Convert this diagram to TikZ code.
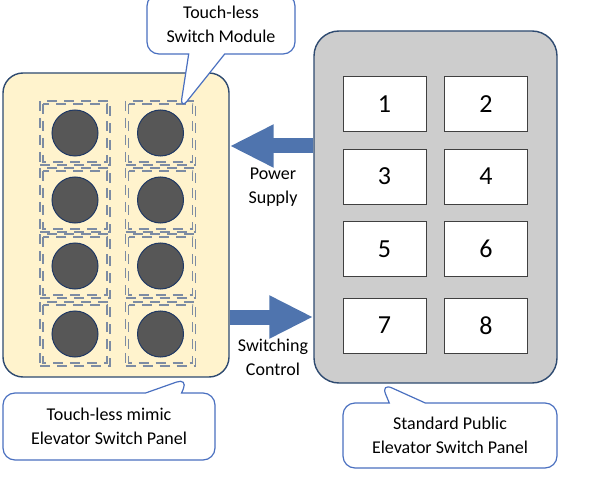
\documentclass[tikz,border=0pt]{standalone}
\usepackage{fontspec}
\setmainfont{Carlito}
\usepackage{tikz}
\usetikzlibrary{shapes.geometric, shapes.callouts, arrows.meta}
\definecolor{padyellow}{HTML}{FFF3CD}
\definecolor{padgray}{HTML}{CDCDCD}
\definecolor{edgeblue}{HTML}{2E4A70}
\definecolor{flowblue}{HTML}{4F74AE}
\definecolor{noteblue}{HTML}{4A70C0}
\definecolor{knobgray}{HTML}{575757}
\definecolor{knobedge}{HTML}{1F3864}
\definecolor{dashgray}{HTML}{7D8CA3}
\tikzstyle{panel} = [rectangle, draw=edgeblue, line width=1.4pt]
\tikzstyle{mimic} = [panel, fill=padyellow, minimum width=226pt, minimum height=304pt, rounded corners=20pt]
\tikzstyle{std} = [panel, fill=padgray, minimum width=243pt, minimum height=352pt, rounded corners=25pt]
\tikzstyle{pad} = [rectangle, draw=black!75, line width=0.8pt, fill=white, minimum width=83pt, minimum height=55pt, font=\fontsize{26}{30}\selectfont]
\tikzstyle{cell} = [rectangle, draw=dashgray, line width=1.2pt, dash pattern=on 10pt off 7pt, minimum width=70pt, minimum height=64pt,
  path picture={\draw [dashgray, line width=1.2pt, dash pattern=on 10pt off 7pt] ([shift={(3pt,-3pt)}]path picture bounding box.north west) rectangle ([shift={(-3pt,3pt)}]path picture bounding box.south east);}]
\tikzstyle{knob} = [circle, draw=knobedge, line width=1pt, fill=knobgray, minimum size=46pt]
\tikzstyle{bubble} = [rectangle callout, draw=noteblue, line width=1.2pt, fill=white, rounded corners=12pt, align=center, callout pointer width=36pt, font=\fontsize{18}{24}\selectfont]
\tikzstyle{lbl} = [align=center, font=\fontsize{18}{24}\selectfont]
\tikzstyle{flow} = [line width=15pt, draw=flowblue, -{Triangle[length=44pt,width=40pt]}]

\begin{document}
\begin{tikzpicture}[x=1pt, y=-1pt]
\useasboundingbox (0,0) rectangle (604,478);
\node (L) [mimic] at (116,225) {};
\node (R) [std] at (435.5,207) {};

\node (c1) [cell] at (75,133) {};
\node (c2) [cell] at (160.5,133) {};
\node (c3) [cell] at (75,200) {};
\node (c4) [cell] at (160.5,200) {};
\node (c5) [cell] at (75,266) {};
\node (c6) [cell] at (160.5,266) {};
\node (c7) [cell] at (75,334) {};
\node (c8) [cell] at (160.5,334) {};
\node (k1) [knob] at (c1) {};
\node (k2) [knob] at (c2) {};
\node (k3) [knob] at (c3) {};
\node (k4) [knob] at (c4) {};
\node (k5) [knob] at (c5) {};
\node (k6) [knob] at (c6) {};
\node (k7) [knob] at (c7) {};
\node (k8) [knob] at (c8) {};

\node (b1) [pad] at (384.5,104) {1};
\node (b2) [pad] at (486,104) {2};
\node (b3) [pad] at (384.5,176.5) {3};
\node (b4) [pad] at (486,176.5) {4};
\node (b5) [pad] at (384.5,249) {5};
\node (b6) [pad] at (486,249) {6};
\node (b7) [pad] at (384.5,325.5) {7};
\node (b8) [pad] at (486,325.5) {8};

\coordinate (pw) at (0,146);
\coordinate (sw) at (0,317);
\draw [flow] (R.west |- pw) -- (L.east |- pw);
\draw [flow] (L.east |- sw) -- (R.west |- sw);
\node (pwr) [lbl] at (273,187) {Power\\Supply};
\node (swc) [lbl] at (273,357) {Switching\\Control};

\node (T) [bubble, minimum width=148pt, minimum height=60pt, callout absolute pointer={(180,110)}] at (221,24) {Touch-less\\Switch Module};
\node (CL) [bubble, minimum width=212pt, minimum height=67pt, callout absolute pointer={(188,378)}] at (109,426.5) {Touch-less mimic\\Elevator Switch Panel};
\node (CR) [bubble, minimum width=214pt, minimum height=65pt, callout absolute pointer={(381,383)}] at (450,435.5) {Standard Public\\Elevator Switch Panel};
\end{tikzpicture}
\end{document}
